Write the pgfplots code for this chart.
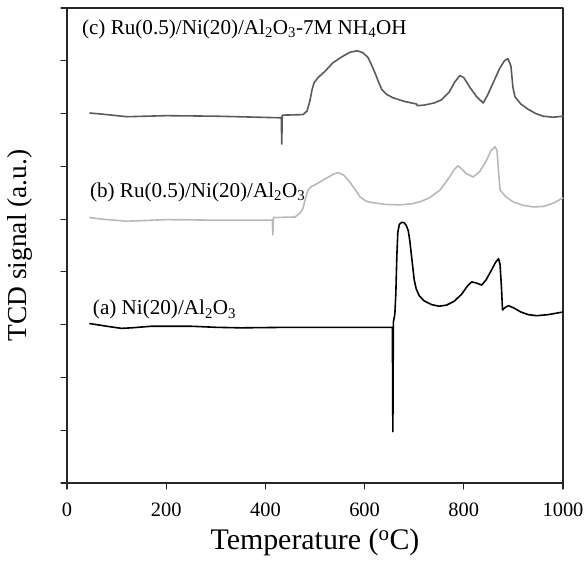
\documentclass[border=0pt]{standalone}
\usepackage{fontspec}
\setmainfont{Liberation Serif}
\usepackage{pgfplots}
\pgfplotsset{compat=1.18}

\definecolor{curvec}{HTML}{5A5A5A}
\definecolor{curveb}{HTML}{B8B8B8}

\begin{document}
\begin{tikzpicture}
\useasboundingbox (-67bp,-80bp) rectangle (517bp,483bp);
\begin{axis}[
  at={(0,0)}, anchor=south west,
  scale only axis,
  width=496bp, height=475bp,
  xmin=0, xmax=1000,
  ymin=0, ymax=9,
  xtick={0,200,...,1000},
  ytick={0,1,...,9},
  yticklabels={},
  xtick pos=left, ytick pos=left,
  tick align=outside,
  major tick length=6bp,
  axis line style={line width=1.5pt, black!85},
  every tick/.style={line width=1.2pt, black!85},
  /pgf/number format/assume math mode=true,
  /pgf/number format/1000 sep={},
  xticklabel style={font=\fontsize{20.5}{22}\selectfont, yshift=-10bp},
  xlabel={Temperature (\textsuperscript{o}C)},
  ylabel={TCD signal (a.u.)},
  xlabel style={font=\fontsize{30}{34}\selectfont, at={(axis description cs:0.5,-0.124)}, anchor=center},
  ylabel style={font=\fontsize{27.5}{30}\selectfont, at={(axis description cs:-0.095,0.5)}, anchor=center},
  line join=round, line cap=round,
  clip=false,
]

% (a) Ni(20)/Al2O3
\addplot[black, line width=1.6pt, mark=none] coordinates {
(46,3.02) (60,3.0) (80,2.97) (110,2.93) (130,2.94) (170,2.97) (250,2.97)
(300,2.95) (350,2.94) (450,2.95) (550,2.95) (656,2.95) (657,0.97) (658,3.05)
(661,3.2) (663,3.6) (665,4.3) (667,4.75) (670,4.9) (675,4.94) (680,4.93)
(684,4.88) (688,4.78) (691,4.6) (694,4.35) (697,4.1) (700,3.85) (704,3.68)
(710,3.55) (720,3.45) (735,3.38) (750,3.35) (765,3.37) (780,3.44) (795,3.57)
(808,3.74) (816,3.81) (825,3.79) (836,3.75) (845,3.85) (855,4.02) (864,4.18)
(870,4.25) (873,4.15) (876,3.7) (878,3.28) (884,3.33) (890,3.36) (900,3.32)
(915,3.24) (930,3.19) (947,3.17) (970,3.19) (1000,3.24)
};

% (b) Ru(0.5)/Ni(20)/Al2O3
\addplot[curveb, line width=1.6pt, mark=none] coordinates {
(46,5.03) (70,5.0) (121,4.96) (200,4.99) (300,4.98) (414,4.98) (415,4.70)
(416,5.03) (460,5.04) (470,5.12) (476,5.21) (481,5.4) (486,5.55) (493,5.62)
(500,5.65) (520,5.76) (535,5.84) (546,5.88) (557,5.84) (567,5.74) (578,5.6)
(591,5.42) (603,5.34) (617,5.31) (640,5.28) (671,5.27) (695,5.29) (712,5.33)
(730,5.4) (752,5.55) (770,5.78) (780,5.93) (788,6.01) (796,5.95) (805,5.86)
(819,5.80) (832,5.9) (845,6.1) (855,6.3) (863,6.37) (867,6.3) (870,5.9)
(873,5.55) (885,5.42) (899,5.33) (920,5.26) (940,5.23) (960,5.24) (980,5.3)
(1000,5.40)
};

% (c) Ru(0.5)/Ni(20)/Al2O3-7M NH4OH
\addplot[curvec, line width=1.6pt, mark=none] coordinates {
(46,7.01) (70,6.99) (121,6.94) (200,6.96) (300,6.95) (430,6.92) (432,6.92)
(433,6.42) (434,6.97) (476,6.98) (484,7.05) (490,7.25) (494,7.45) (498,7.58)
(506,7.68) (520,7.8) (536,7.96) (555,8.08) (570,8.16) (585,8.19) (597,8.15)
(607,8.06) (614,7.92) (621,7.77) (628,7.6) (635,7.45) (645,7.36) (657,7.30)
(680,7.23) (705,7.18) (706,7.15) (720,7.16) (740,7.2) (755,7.26) (770,7.4)
(782,7.6) (792,7.72) (800,7.68) (812,7.5) (825,7.33) (839,7.2) (848,7.35)
(860,7.6) (872,7.85) (882,8.0) (889,8.04) (895,7.9) (899,7.5) (903,7.32)
(915,7.18) (930,7.08) (945,7.0) (960,6.95) (980,6.93) (1000,6.95)
};

\node[anchor=west, inner sep=0pt, font=\fontsize{21.2}{24}\selectfont]
  at (axis cs:30,8.59) {(c) Ru(0.5)/Ni(20)/Al\textsubscript{2}O\textsubscript{3}-7M NH\textsubscript{4}OH};
\node[anchor=west, inner sep=0pt, font=\fontsize{21.2}{24}\selectfont]
  at (axis cs:46,5.5) {(b) Ru(0.5)/Ni(20)/Al\textsubscript{2}O\textsubscript{3}};
\node[anchor=west, inner sep=0pt, font=\fontsize{21.2}{24}\selectfont]
  at (axis cs:52,3.28) {(a) Ni(20)/Al\textsubscript{2}O\textsubscript{3}};

\end{axis}
\end{tikzpicture}
\end{document}
